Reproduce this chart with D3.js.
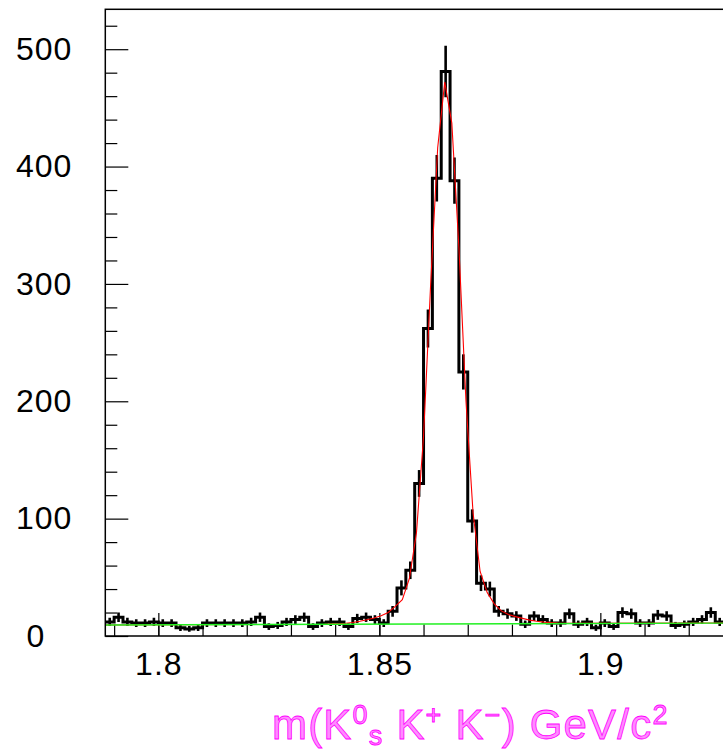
<!DOCTYPE html>
<html>
<head>
<meta charset="utf-8">
<script src="https://cdn.jsdelivr.net/npm/d3@7"></script>
<style>
  html, body { margin: 0; padding: 0; background: #fff; overflow: hidden; }
  svg { display: block; }
</style>
</head>
<body>
<svg id="chart" width="723" height="753"></svg>
<script>
// ---- data -------------------------------------------------------------
// invariant-mass histogram: 0.002 GeV/c^2 bins starting at 1.788
const binLow = 1.788;
const binWidth = 0.002;
const counts = [
  12, 16, 12, 11, 11, 12, 11, 11, 7, 6,
  7, 11, 11, 11, 11, 11, 12, 16, 8, 9,
  12, 14, 16, 8, 11, 12, 12, 8, 15, 16,
  14, 11, 21, 41, 56, 130, 262, 390, 481, 388,
  225, 98, 45, 40, 21, 19, 17, 10, 17, 14,
  11, 11, 19, 10, 12, 7, 11, 8, 20, 19,
  11, 11, 18, 17, 9, 10, 12, 14, 20, 12
];

// total fit (signal + background), polyline vertices
const fitMass = [
  1.7880, 1.8376, 1.8392, 1.8408, 1.8424, 1.8440, 1.8456, 1.8472, 1.8488, 1.8504,
  1.8520, 1.8536, 1.8552, 1.8568, 1.8584, 1.8600, 1.8616, 1.8632, 1.8648, 1.8664,
  1.8680, 1.8696, 1.8712, 1.8728, 1.8744, 1.8760, 1.8776, 1.8792, 1.8808, 1.8824,
  1.8840, 1.8856, 1.8872, 1.8888, 1.8904, 1.8920, 1.9480
];
const fitValue = [
  9.4, 9.97, 10.3, 10.5, 10.9, 11.5, 12.5, 13.9, 15.4, 17.3,
  20.1, 25.2, 31.0, 49.0, 88.0, 170.0, 299.0, 416.0, 472.0, 437.0,
  331.0, 200.0, 105.0, 55.0, 37.0, 27.4, 21.4, 18.4, 16.5, 15.0,
  13.5, 12.5, 11.8, 11.4, 11.0, 10.8, 11.2
];

// background component (linear)
const bkgMass = [1.788, 1.948];
const bkgValue = [9.4, 11.2];

// axes
const xDomain = [1.788, 1.948];
const yDomain = [0, 534];
const xMajorTicks = [1.8, 1.85, 1.9];
const xTickLabels = ["1.8", "1.85", "1.9"];
const xMinorTicks = [1.79, 1.80, 1.81, 1.82, 1.83, 1.84, 1.85, 1.86, 1.87, 1.88, 1.89, 1.90, 1.91, 1.92, 1.93, 1.94];
const yMajorTicks = [0, 100, 200, 300, 400, 500];
const yTickLabels = ["0", "100", "200", "300", "400", "500"];
const yMinorTicks = [20, 40, 60, 80, 120, 140, 160, 180, 220, 240, 260, 280, 320, 340, 360, 380, 420, 440, 460, 480, 520];

// ---- layout -----------------------------------------------------------
const frame = { left: 105.3, top: 9.3, right: 812.5, bottom: 636 };
const svg = d3.select("#chart");

const x = d3.scaleLinear().domain(xDomain).range([frame.left, frame.right]);
const y = d3.scaleLinear().domain(yDomain).range([frame.bottom, frame.top]);

svg.append("defs").append("clipPath").attr("id", "plot-clip")
  .append("rect")
  .attr("x", frame.left).attr("y", frame.top)
  .attr("width", frame.right - frame.left).attr("height", frame.bottom - frame.top);

const labelFont = "'Liberation Sans', Arial, sans-serif";

// ---- axes -------------------------------------------------------------
const xMinorAxis = d3.axisBottom(x).tickValues(xMinorTicks).tickSize(-11.5).tickFormat("");
const xMajorAxis = d3.axisBottom(x).tickValues(xMajorTicks).tickSize(-23).tickPadding(16)
  .tickFormat((d, i) => xTickLabels[i]);
const yMinorAxis = d3.axisLeft(y).tickValues(yMinorTicks).tickSize(-12).tickFormat("");
const yMajorAxis = d3.axisLeft(y).tickValues(yMajorTicks).tickSize(-23).tickPadding(33)
  .tickFormat((d, i) => yTickLabels[i]);

function styleAxis(g) {
  g.select(".domain").remove();
  g.selectAll(".tick line").attr("stroke", "#000").attr("stroke-width", 1.2);
  g.selectAll(".tick text")
    .attr("fill", "#000")
    .style("font-family", labelFont)
    .style("font-size", "32px")
    .style("letter-spacing", "1px");
}

svg.append("g").attr("transform", `translate(0,${frame.bottom})`).call(xMinorAxis).call(styleAxis);
svg.append("g").attr("transform", `translate(0,${frame.bottom})`).call(xMajorAxis).call(styleAxis);
svg.append("g").attr("transform", `translate(${frame.left},0)`).call(yMinorAxis).call(styleAxis);
const yAxisG = svg.append("g").attr("transform", `translate(${frame.left},0)`).call(yMajorAxis).call(styleAxis);
// the single-digit zero label sits further out, under the hundreds digit
yAxisG.selectAll(".tick text").filter(d => d === 0).attr("x", -60);

// ---- histogram --------------------------------------------------------
const plot = svg.append("g").attr("clip-path", "url(#plot-clip)");

const bins = counts.map((c, i) => ({
  lo: binLow + i * binWidth,
  hi: binLow + (i + 1) * binWidth,
  c: c,
  err: Math.sqrt(c)
}));

const stepPts = bins.map(b => [b.lo, b.c]);
stepPts.push([bins[bins.length - 1].hi, bins[bins.length - 1].c]);

plot.append("path")
  .attr("d", d3.line().x(d => x(d[0])).y(d => y(d[1])).curve(d3.curveStepAfter)(stepPts))
  .attr("fill", "none")
  .attr("stroke", "#000")
  .attr("stroke-width", 3);

plot.append("g").selectAll("line").data(bins).join("line")
  .attr("x1", d => x((d.lo + d.hi) / 2))
  .attr("x2", d => x((d.lo + d.hi) / 2))
  .attr("y1", d => y(d.c - d.err))
  .attr("y2", d => y(d.c + d.err))
  .attr("stroke", "#000")
  .attr("stroke-width", 2.6);

// ---- fit curves -------------------------------------------------------
const fitPts = fitMass.map((m, i) => [m, fitValue[i]]);
plot.append("path")
  .attr("d", d3.line().x(d => x(d[0])).y(d => y(d[1]))(fitPts))
  .attr("fill", "none")
  .attr("stroke", "#ff0000")
  .attr("stroke-width", 1.1);

const bkgPts = bkgMass.map((m, i) => [m, bkgValue[i]]);
plot.append("path")
  .attr("d", d3.line().x(d => x(d[0])).y(d => y(d[1]))(bkgPts))
  .attr("fill", "none")
  .attr("stroke", "#22f022")
  .attr("stroke-width", 1.4);

// ---- frame ------------------------------------------------------------
svg.append("rect")
  .attr("x", frame.left).attr("y", frame.top)
  .attr("width", frame.right - frame.left).attr("height", frame.bottom - frame.top)
  .attr("fill", "none")
  .attr("stroke", "#000")
  .attr("stroke-width", 1.5);

// ---- axis title -------------------------------------------------------
const title = svg.append("text")
  .attr("x", 272)
  .attr("y", 739)
  .attr("fill", "#ff8cff")
  .attr("stroke", "#ff00ff")
  .attr("stroke-width", 0.8)
  .style("font-family", labelFont)
  .style("font-size", "42px")
  .style("letter-spacing", "1.2px");

const parts = [
  { t: "m(K", dy: 0, size: 42 },
  { t: "0", dy: -15, size: 27 },
  { t: "s", dy: 21, size: 27 },
  { t: " K", dy: -6, size: 42 },
  { t: "+", dy: -15, size: 27 },
  { t: " K", dy: 15, size: 42 },
  { t: "\u2212", dy: -15, size: 27 },
  { t: ") GeV/c", dy: 15, size: 42 },
  { t: "2", dy: -15, size: 27 }
];
parts.forEach(p => {
  title.append("tspan").attr("dy", p.dy).style("font-size", p.size + "px").text(p.t);
});
</script>
</body>
</html>
